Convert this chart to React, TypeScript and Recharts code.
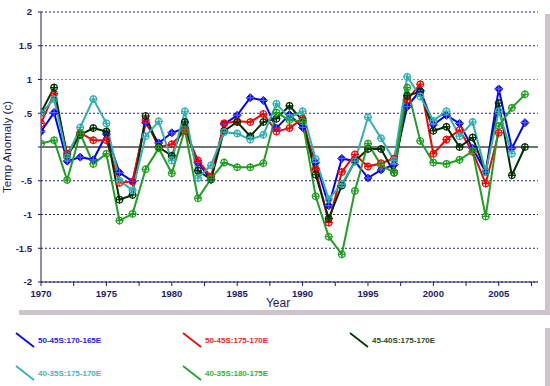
import React from "react";
import { LineChart, Line, XAxis, YAxis, ReferenceLine } from "recharts";

const years = [
  1970, 1971, 1972, 1973, 1974, 1975, 1976, 1977, 1978, 1979,
  1980, 1981, 1982, 1983, 1984, 1985, 1986, 1987, 1988, 1989,
  1990, 1991, 1992, 1993, 1994, 1995, 1996, 1997, 1998, 1999,
  2000, 2001, 2002, 2003, 2004, 2005, 2006, 2007,
];

const s50_45_170_165 = [
  0.23, 0.51, -0.21, -0.15, -0.19, 0.19, -0.38, -0.51, 0.36, 0.06,
  0.21, 0.28, -0.23, -0.48, 0.34, 0.47, 0.73, 0.69, 0.28, 0.48,
  0.29, -0.23, -0.87, -0.17, -0.21, -0.46, -0.34, -0.26, 0.6, 0.84,
  0.33, 0.47, 0.35, -0.02, -0.37, 0.86, -0.02, 0.36,
];

const s50_45_175_170 = [
  0.35, 0.79, -0.1, 0.21, 0.1, 0.1, -0.53, -0.51, 0.4, 0.0,
  0.04, 0.24, -0.2, -0.44, 0.35, 0.38, 0.37, 0.49, 0.23, 0.28,
  0.42, -0.33, -1.12, -0.37, -0.11, -0.29, -0.24, -0.17, 0.7, 0.93,
  -0.1, 0.11, 0.25, -0.07, -0.54, 0.21, null, null,
];

const s45_40_175_170 = [
  0.51, 0.88, -0.14, 0.18, 0.28, 0.23, -0.78, -0.71, 0.46, 0.0,
  -0.13, 0.37, -0.35, -0.48, 0.24, 0.37, 0.16, 0.37, 0.42, 0.61,
  0.39, -0.41, -1.06, -0.57, -0.21, -0.03, -0.03, -0.38, 0.76, 0.82,
  0.24, 0.3, 0.0, 0.14, -0.37, 0.65, -0.42, 0.0,
];

const s40_35_175_170 = [
  0.5, 0.71, -0.15, 0.29, 0.71, 0.35, -0.5, -0.64, 0.16, 0.38,
  -0.2, 0.53, -0.46, -0.27, 0.22, 0.2, 0.11, 0.18, 0.64, 0.43,
  0.53, -0.18, -0.77, -0.55, -0.21, 0.44, 0.13, -0.2, 1.04, 0.75,
  0.39, 0.53, 0.16, 0.37, -0.37, 0.53, -0.1, null,
];

const s40_35_180_175 = [
  0.05, 0.1, -0.49, 0.2, -0.25, -0.1, -1.09, -0.99, -0.33, -0.02,
  -0.39, 0.26, -0.76, -0.47, -0.23, -0.3, -0.3, -0.24, 0.51, 0.4,
  0.38, -0.73, -1.33, -1.59, -0.65, 0.05, -0.27, -0.38, 0.88, 0.09,
  -0.23, -0.25, -0.19, -0.06, -1.03, 0.31, 0.58, 0.78,
];

const seriesNames = [
  "50-45S:170-165E",
  "50-45S:175-170E",
  "45-40S:175-170E",
  "40-35S:175-170E",
  "40-35S:180-175E",
];

const xTicks = [
  1970, 1972.5, 1975, 1977.5, 1980, 1982.5, 1985, 1987.5, 1990, 1992.5,
  1995, 1997.5, 2000, 2002.5, 2005, 2007.5,
];
const yTicks = [-2, -1.5, -1, -0.5, 0, 0.5, 1, 1.5, 2];
const gridLevels = [2, 1.5, 1, 0.5, -0.5, -1, -1.5, -2];

const SERIES = [
  { key: "a", name: seriesNames[0], values: s50_45_170_165, color: "#0000ff", text: "#1a1aff", diamond: true },
  { key: "b", name: seriesNames[1], values: s50_45_175_170, color: "#ff0000", text: "#ff1a1a", diamond: false },
  { key: "c", name: seriesNames[2], values: s45_40_175_170, color: "#003000", text: "#1f4f1f", diamond: false },
  { key: "d", name: seriesNames[3], values: s40_35_175_170, color: "#30b0b0", text: "#38bcbc", diamond: false },
  { key: "e", name: seriesNames[4], values: s40_35_180_175, color: "#1fa01f", text: "#30b830", diamond: false },
];

const data = years.map((yr, i) => {
  const row: any = { year: yr };
  SERIES.forEach((s) => {
    row[s.key] = s.values[i];
  });
  return row;
});

const NAVY = "#1c1c66";
const FONT = "'Liberation Sans', Arial, sans-serif";

const makeDot = (color: string, diamond: boolean) => (props: any) => {
  const { cx, cy, index } = props;
  if (cx == null || cy == null || props.value == null) return <g key={index} />;
  const r = 3.2;
  return (
    <g key={index}>
      {diamond ? (
        <path
          d={`M${cx},${cy - 4} L${cx + 4},${cy} L${cx},${cy + 4} L${cx - 4},${cy} Z`}
          fill={color}
          stroke={color}
          strokeWidth={1}
        />
      ) : (
        <circle cx={cx} cy={cy} r={r} fill="none" stroke={color} strokeWidth={1.2} />
      )}
      <line x1={cx - 4} y1={cy} x2={cx + 4} y2={cy} stroke={diamond ? "#6060ff" : color} strokeWidth={1.2} />
      <line x1={cx} y1={cy - 4} x2={cx} y2={cy + 4} stroke={diamond ? "#6060ff" : color} strokeWidth={1.2} />
    </g>
  );
};

const xFmt = (v: number) => (v % 5 === 0 ? String(v) : "");
const yFmt = (v: number) => {
  if (v === 0) return "";
  if (v === 0.5) return ".5";
  if (v === -0.5) return "-.5";
  return String(v);
};

const legendPos = [
  { x: 16, y: 333 },
  { x: 183, y: 333 },
  { x: 350, y: 333 },
  { x: 16, y: 366 },
  { x: 183, y: 366 },
];

export default function App() {
  return (
    <div style={{ position: "absolute", left: 0, top: 0, width: 550, height: 386, background: "#fff", overflow: "hidden" }}>
      {/* chart frame shadow */}
      <div
        style={{
          position: "absolute",
          left: 14,
          top: 9,
          width: 531,
          height: 301,
          background: "#fff",
          boxShadow: "5px 5px 0 #cbc5cb",
        }}
      />
      {/* legend frame shadow */}
      <div
        style={{
          position: "absolute",
          left: 14,
          top: 323,
          width: 531,
          height: 80,
          background: "#fff",
          boxShadow: "5px 5px 0 #cbc5cb",
        }}
      />
      <div style={{ position: "absolute", left: 0, top: 0 }}>
        <LineChart
          width={550}
          height={320}
          data={data}
          margin={{ top: 12, right: 12, bottom: 0, left: 0 }}
        >
          {gridLevels.map((g) => (
            <ReferenceLine
              key={g}
              y={g}
              stroke={g === 1 ? "#8a84c8" : "#22228a"}
              strokeDasharray="2 2"
              strokeWidth={1}
              ifOverflow="visible"
            />
          ))}
          <ReferenceLine y={0} stroke="#444444" strokeWidth={1.6} />
          <XAxis
            dataKey="year"
            type="number"
            domain={[1970, 2008]}
            ticks={xTicks}
            tickFormatter={xFmt}
            interval={0}
            height={38}
            stroke={NAVY}
            tickSize={4}
            tickMargin={4}
            tick={{ fill: NAVY, fontSize: 9.5, fontWeight: "bold", fontFamily: FONT }}
            allowDataOverflow
          />
          <YAxis
            type="number"
            domain={[-2, 2]}
            ticks={yTicks}
            tickFormatter={yFmt}
            interval={0}
            width={41}
            stroke={NAVY}
            tickSize={3}
            tickMargin={6}
            tick={{ fill: NAVY, fontSize: 9.5, fontWeight: "bold", fontFamily: FONT }}
          />
          {SERIES.map((s) => (
            <Line
              key={s.key}
              dataKey={s.key}
              name={s.name}
              stroke={s.color}
              strokeWidth={2}
              dot={makeDot(s.color, s.diamond)}
              activeDot={false}
              isAnimationActive={false}
              connectNulls={false}
            />
          ))}
        </LineChart>
      </div>
      <svg
        width={550}
        height={386}
        style={{ position: "absolute", left: 0, top: 0, pointerEvents: "none" }}
      >
        <text
          x={0}
          y={0}
          transform="translate(11,147) rotate(-90)"
          textAnchor="middle"
          fill={NAVY}
          fontSize={11.5}
          fontFamily={FONT}
        >
          Temp Anomaly (c)
        </text>
        <text x={278} y={307} textAnchor="middle" fill={NAVY} fontSize={12} fontFamily={FONT}>
          Year
        </text>
        {SERIES.map((s, i) => (
          <g key={s.key}>
            <line
              x1={legendPos[i].x}
              y1={legendPos[i].y}
              x2={legendPos[i].x + 18}
              y2={legendPos[i].y + 14}
              stroke={s.color}
              strokeWidth={1.6}
            />
            <text
              x={legendPos[i].x + 22}
              y={legendPos[i].y + 10}
              fill={s.text}
              fontSize={8}
              fontWeight="bold"
              fontFamily={FONT}
            >
              {s.name}
            </text>
          </g>
        ))}
      </svg>
    </div>
  );
}
